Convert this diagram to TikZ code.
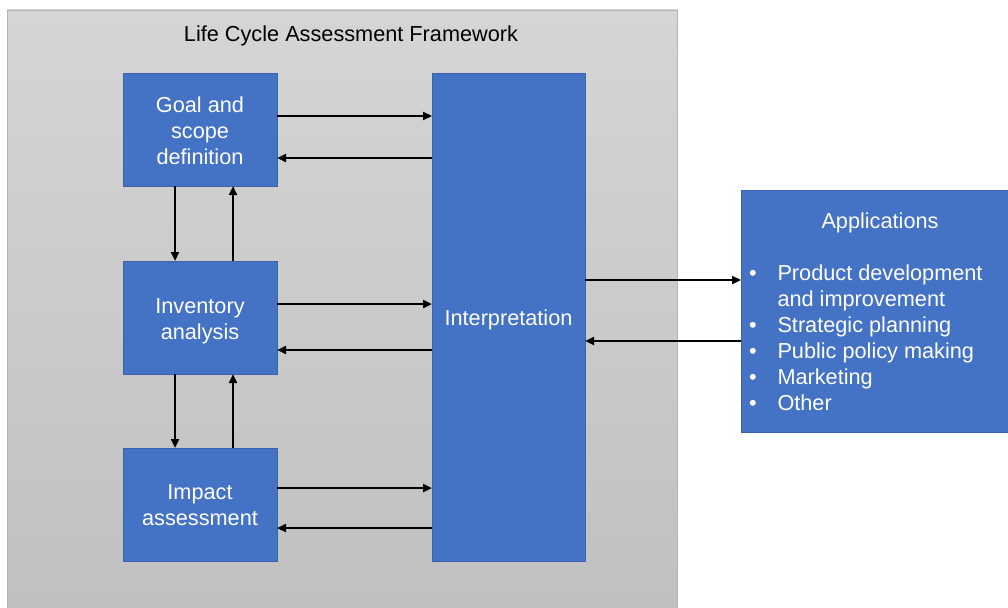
\documentclass[tikz,border=0pt]{standalone}
\usepackage{fontspec}
\setmainfont{Liberation Sans}
\usetikzlibrary{arrows.meta,calc}
\definecolor{lcablue}{HTML}{4472C4}
\definecolor{lcaedge}{HTML}{3A62AE}
\definecolor{paneltop}{HTML}{D5D5D5}
\definecolor{panelbot}{HTML}{C0C0C0}
\definecolor{paneledge}{HTML}{B4B4B4}
\newcommand{\lowerby}[2]{\raisebox{-#1}[\height][\depth]{\begin{tabular}{@{}c@{}}#2\end{tabular}}}
\tikzset{
  bluebox/.style={draw=lcaedge, line width=0.7pt, fill=lcablue, text=white,
    inner sep=0pt, outer sep=0pt, align=center,
    font=\fontsize{21.7}{26}\selectfont},
  arr/.style={line width=2.6pt, -{Triangle[length=9pt,width=8pt]}},
  lbl/.style={inner sep=0pt, font=\fontsize{21.7}{26}\selectfont}
}
\begin{document}
\begin{tikzpicture}[x=1pt,y=-1pt]
\useasboundingbox (0,0) rectangle (1008,607);
\fill[white] (0,0) rectangle (1008,607);
% panel
\shade[top color=paneltop, bottom color=panelbot, draw=paneledge, line width=0.6pt]
  (7,10) rectangle (677,612);
\node[lbl] (title) at (351,36) {Life Cycle Assessment Framework};
% boxes
\node[bluebox, minimum width=154pt, minimum height=113pt] (goal) at (200,129.5) {\lowerby{4pt}{Goal and\\scope\\definition}};
\node[bluebox, minimum width=154pt, minimum height=113pt] (inv) at (200,317.5) {\lowerby{4pt}{Inventory\\analysis}};
\node[bluebox, minimum width=154pt, minimum height=113pt] (imp) at (200,504.5) {\lowerby{3pt}{Impact\\assessment}};
\node[bluebox, minimum width=153pt, minimum height=488pt] (interp) at (508.5,317) {\lowerby{3pt}{Interpretation}};
\node[bluebox, minimum width=267pt, minimum height=242pt] (apps) at (874.5,311) {};
\node[lbl, text=white] (appstitle) at (880,222.5) {Applications};
\node[lbl, text=white, anchor=north west] (appslist) at (749,262)
 {\begin{tabular}{@{}p{28.3pt}@{}l@{}}
 •& Product development\\
  & and improvement\\
 •& Strategic planning\\
 •& Public policy making\\
 •& Marketing\\
 •& Other
 \end{tabular}};
% horizontal arrows
\draw[arr] ([yshift=13.5pt]goal.east) -- ([yshift=13.5pt]goal.east -| interp.west);
\draw[arr] ([yshift=-28.5pt]goal.east -| interp.west) -- ([yshift=-28.5pt]goal.east);
\draw[arr] ([yshift=13.5pt]inv.east) -- ([yshift=13.5pt]inv.east -| interp.west);
\draw[arr] ([yshift=-32.5pt]inv.east -| interp.west) -- ([yshift=-32.5pt]inv.east);
\draw[arr] ([yshift=16.5pt]imp.east) -- ([yshift=16.5pt]imp.east -| interp.west);
\draw[arr] ([yshift=-23.5pt]imp.east -| interp.west) -- ([yshift=-23.5pt]imp.east);
% vertical arrows
\draw[arr] ([xshift=-25pt]goal.south) -- ([xshift=-25pt]goal.south |- inv.north);
\draw[arr] ([xshift=33pt]goal.south |- inv.north) -- ([xshift=33pt]goal.south);
\draw[arr] ([xshift=-25pt]inv.south) -- ([xshift=-25pt]inv.south |- imp.north);
\draw[arr] ([xshift=33pt]inv.south |- imp.north) -- ([xshift=33pt]inv.south);
% interpretation <-> applications
\draw[arr] ([yshift=37pt]interp.east) -- ([yshift=37pt]interp.east -| apps.west);
\draw[arr] ([yshift=-24pt]interp.east -| apps.west) -- ([yshift=-24pt]interp.east);
\end{tikzpicture}
\end{document}
